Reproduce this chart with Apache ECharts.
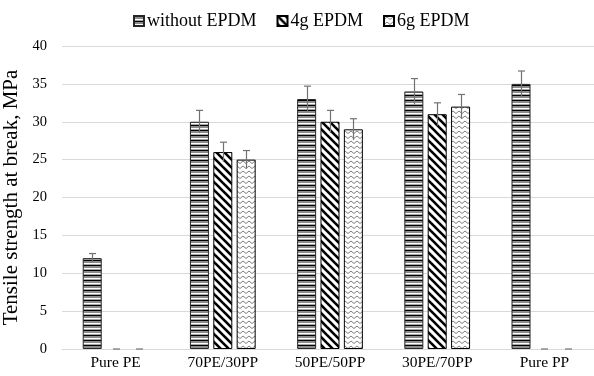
<!DOCTYPE html>
<html><head><meta charset="utf-8">
<script src="https://cdn.jsdelivr.net/npm/echarts@6/dist/echarts.min.js"></script>
<style>html,body{margin:0;padding:0;background:#fff}#c{width:594px;height:376px}</style>
</head><body><div id="c"></div>
<script>
const categories = ['Pure PE', '70PE/30PP', '50PE/50PP', '30PE/70PP', 'Pure PP'];
const seriesNames = ['without EPDM', '4g EPDM', '6g EPDM'];
const withoutEPDM = [12, 30, 33, 34, 35];
const epdm4g = [0, 26, 30, 31, 0];
const epdm6g = [0, 25, 29, 32, 0];
const errWithout = [0.6, 1.5, 1.7, 1.7, 1.7];
const err4g = [0, 1.3, 1.5, 1.5, 0];
const err6g = [0, 1.2, 1.4, 1.6, 0];
const yTicks = { min: 0, max: 40, interval: 5 };

function makeTile(w, h, draw) {
  const c = document.createElement('canvas');
  c.width = w; c.height = h;
  const ctx = c.getContext('2d');
  ctx.fillStyle = '#fff'; ctx.fillRect(0, 0, w, h);
  draw(ctx, w, h);
  return c;
}
const horiz = makeTile(4, 5, (ctx, w) => {
  ctx.fillStyle = '#000'; ctx.fillRect(0, 0, w, 1);
  ctx.fillStyle = '#8c8c8c'; ctx.fillRect(0, 1, w, 2);
  ctx.fillStyle = '#fff'; ctx.fillRect(0, 3, w, 1);
  ctx.fillStyle = '#a6a6a6'; ctx.fillRect(0, 4, w, 1);
});
const diag = makeTile(8, 8, (ctx, w, h) => {
  ctx.strokeStyle = '#000'; ctx.lineWidth = 2.6;
  for (let k = -1; k <= 1; k++) {
    ctx.beginPath(); ctx.moveTo(k * w - 1, -1); ctx.lineTo(k * w + w + 1, h + 1); ctx.stroke();
  }
});
const zig = makeTile(6, 5, (ctx, w, h) => {
  ctx.strokeStyle = '#7f7f7f'; ctx.lineWidth = 1;
  ctx.beginPath(); ctx.moveTo(0, 3.5); ctx.lineTo(3, 1); ctx.lineTo(6, 3.5); ctx.stroke();
});
const fills = [
  { image: horiz, repeat: 'repeat' },
  { image: diag, repeat: 'repeat' },
  { image: zig, repeat: 'repeat' }
];
const borders = ['#262626', '#000', '#000'];
const values = [withoutEPDM, epdm4g, epdm6g];
const errors = [errWithout, err4g, err6g];

const barWidth = 19, barGap = 0.23;
const step = barWidth * (1 + barGap);
const FONT = "'Liberation Serif', 'Times New Roman', serif";

const errData = [];
values.forEach((arr, s) => arr.forEach((v, i) => errData.push([i, s, v, errors[s][i]])));

const series = values.map((arr, s) => ({
  name: seriesNames[s], type: 'bar',
  data: arr.map(v => v === 0 ? { value: v, itemStyle: { borderWidth: 0 } } : v),
  barWidth: barWidth, barGap: (barGap * 100) + '%',
  itemStyle: { color: fills[s], borderColor: borders[s], borderWidth: 1 },
  emphasis: { disabled: true }
}));
series.push({
  type: 'custom', name: 'err', data: errData, z: 10,
  encode: { x: 0, y: 2 },
  renderItem: function (params, api) {
    const cat = api.value(0), s = api.value(1), v = api.value(2), e = api.value(3);
    const off = (s - 1) * step;
    const top = api.coord([cat, v + e]);
    const bot = api.coord([cat, Math.max(0, v - e)]);
    const x = Math.round(top[0] + off) + 0.5;
    const children = [
      { type: 'line', shape: { x1: x - 3.5, y1: top[1], x2: x + 3.5, y2: top[1] }, style: { stroke: '#737373', lineWidth: 1.2 } }
    ];
    if (e > 0) children.push({ type: 'line', shape: { x1: x, y1: top[1], x2: x, y2: bot[1] }, style: { stroke: '#737373', lineWidth: 1.2 } });
    return { type: 'group', children: children };
  }
});

const chart = echarts.init(document.getElementById('c'), null, { renderer: 'canvas' });
chart.setOption({
  animation: false,
  backgroundColor: '#fff',
  textStyle: { fontFamily: FONT },
  legend: {
    data: seriesNames, top: 7, left: 128, itemWidth: 10, itemHeight: 10, itemGap: 20,
    icon: 'rect',
    textStyle: { fontFamily: FONT, fontSize: 18, color: '#000', padding: [0, 0, 0, -2] }
  },
  grid: { left: 62, top: 46, width: 536, height: 303, containLabel: false, outerBoundsMode: 'none' },
  xAxis: {
    type: 'category', data: categories,
    axisLine: { lineStyle: { color: '#d9d9d9', width: 1 } },
    axisTick: { show: false },
    axisLabel: { fontFamily: FONT, fontSize: 15.5, color: '#000', margin: 6 }
  },
  yAxis: {
    type: 'value', min: yTicks.min, max: yTicks.max, interval: yTicks.interval,
    name: 'Tensile strength at break, MPa', nameLocation: 'middle', nameGap: 31.5,
    nameTextStyle: { fontFamily: FONT, fontSize: 21, color: '#000' },
    axisLine: { show: false }, axisTick: { show: false },
    axisLabel: { fontFamily: FONT, fontSize: 14.5, color: '#000', margin: 15 },
    splitLine: { lineStyle: { color: '#d9d9d9', width: 1 } }
  },
  series: series
});
</script></body></html>
